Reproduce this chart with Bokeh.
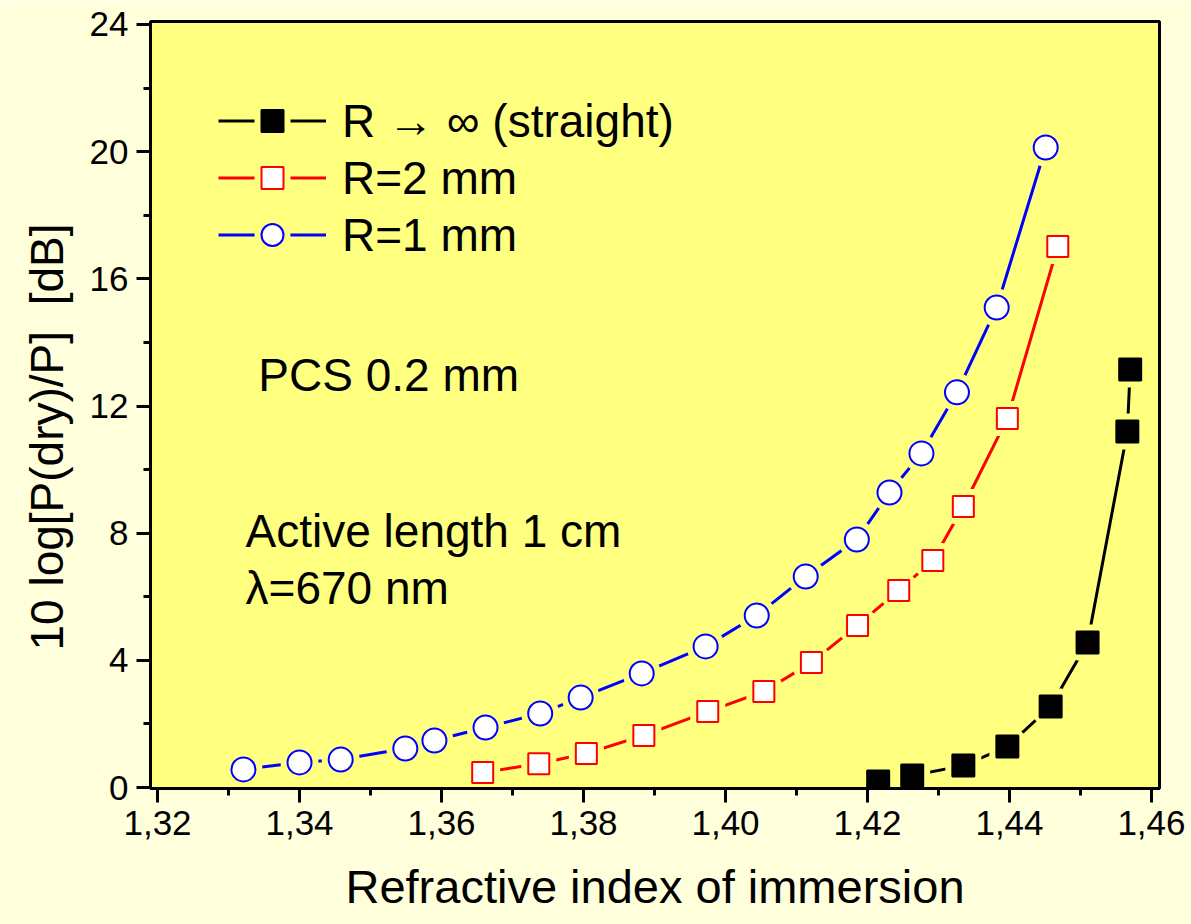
from bokeh.plotting import figure
from bokeh.models import (Range1d, FixedTicker, CustomJSTickFormatter, Legend,
                          LegendItem, Label, Title)
from bokeh.embed import file_html
from bokeh.resources import INLINE

# ---------------- data ----------------
x_ticks = [1.32, 1.34, 1.36, 1.38, 1.40, 1.42, 1.44, 1.46]
x_minor = [1.33, 1.35, 1.37, 1.39, 1.41, 1.43, 1.45]
y_ticks = [0, 4, 8, 12, 16, 20, 24]
y_minor = [2, 6, 10, 14, 18, 22]

straight_n = [1.4215, 1.4263, 1.4335, 1.4397, 1.4458, 1.4510, 1.4566, 1.4570]
straight_db = [0.19, 0.38, 0.69, 1.29, 2.55, 4.56, 11.20, 13.15]

r2_n = [1.3658, 1.3737, 1.3804, 1.3885, 1.3975, 1.4054, 1.4121, 1.4186,
        1.4244, 1.4292, 1.4335, 1.4397, 1.4468]
r2_db = [0.47, 0.75, 1.07, 1.64, 2.39, 3.02, 3.93, 5.10, 6.20, 7.14, 8.84,
         11.61, 17.02]

r1_n = [1.3321, 1.3400, 1.3458, 1.3549, 1.3590, 1.3662, 1.3739, 1.3796,
        1.3882, 1.3972, 1.4044, 1.4113, 1.4185, 1.4231, 1.4276, 1.4326,
        1.4382, 1.4451]
r1_db = [0.57, 0.79, 0.88, 1.23, 1.48, 1.89, 2.33, 2.83, 3.59, 4.44, 5.41,
         6.64, 7.80, 9.28, 10.51, 12.43, 15.10, 20.13]

labels = ["R \u2192 \u221e (straight)", "R=2 mm", "R=1 mm"]
x_title = "Refractive index of immersion"
y_title = "10 log[P(dry)/P]\u00a0 [dB]"

# ---------------- styling ----------------
PLOT_BG = "#FFFF80"
PAGE_BG = "#FFFFDC"
FONT = "Liberation Sans"

p = figure(width=1191, height=924, output_backend="svg", toolbar_location=None,
           x_range=Range1d(1.31901, 1.46113), y_range=Range1d(-0.03, 24.094),
           min_border_left=150, min_border_top=21, min_border_right=32,
           min_border_bottom=136,
           background_fill_color=PLOT_BG, border_fill_color=PAGE_BG)
p.xgrid.visible = False
p.ygrid.visible = False
p.outline_line_color = "black"
p.outline_line_width = 3

p.xaxis.ticker = FixedTicker(ticks=x_ticks, minor_ticks=x_minor)
p.xaxis.formatter = CustomJSTickFormatter(code="return tick.toFixed(2).replace('.', ',');")
p.yaxis.ticker = FixedTicker(ticks=y_ticks, minor_ticks=y_minor)

p.xaxis.axis_label = x_title

for ax in (p.xaxis, p.yaxis):
    ax.axis_line_width = 3
    ax.axis_line_color = "black"
    ax.major_tick_line_width = 3
    ax.minor_tick_line_width = 3
    ax.major_tick_line_color = "black"
    ax.minor_tick_line_color = "black"
    ax.major_tick_out = 14
    ax.major_tick_in = 0
    ax.minor_tick_out = 7
    ax.minor_tick_in = 0
    ax.major_label_text_font = FONT
    ax.major_label_text_font_size = "35px"
    ax.major_label_text_color = "black"
    ax.major_label_standoff = 8
    ax.axis_label_text_font = FONT
    ax.axis_label_text_font_size = "47px"
    ax.axis_label_text_font_style = "normal"
    ax.axis_label_text_color = "black"
p.xaxis.axis_label_standoff = 22

# y-axis title as a side title (starts where the original's does)
ytitle = Title(text=y_title, align="left", offset=138, standoff=28,
               text_font=FONT, text_font_size="46px", text_font_style="normal",
               text_color="black")
p.add_layout(ytitle, "left")

series = [
    (straight_n, straight_db, "black", "square", 22, "black", "black"),
    (r2_n, r2_db, "red", "square", 21, "red", "white"),
    (r1_n, r1_db, "blue", "circle", 24, "blue", "white"),
]

items = []
for (xs, ys, col, mk, sz, lc, fc), lab in zip(series, labels):
    ln = p.line(xs, ys, line_color=col, line_width=3)
    halo = p.scatter(xs, ys, marker=mk, size=sz, fill_color=PLOT_BG,
                     line_color=PLOT_BG, line_width=14)
    mr = p.scatter(xs, ys, marker=mk, size=sz, fill_color=fc, line_color=lc,
                   line_width=2)
    items.append(LegendItem(label=lab, renderers=[ln, halo, mr]))

legend = Legend(items=items, location=(68, 526), background_fill_alpha=0,
                border_line_alpha=0, glyph_width=108, glyph_height=55,
                label_height=55, label_standoff=16, spacing=2, padding=0,
                margin=0, label_text_font=FONT, label_text_font_size="46px",
                label_text_color="black")
p.add_layout(legend)

for tx, xx, yy in [("PCS 0.2 mm", 1.3342, 12.96),
                   ("Active length 1 cm", 1.3324, 8.08),
                   ("\u03bb=670 nm", 1.3324, 6.29)]:
    p.add_layout(Label(x=xx, y=yy, text=tx, text_font=FONT,
                       text_font_size="46px", text_color="black",
                       text_baseline="alphabetic", text_align="left"))

open("out.html", "w").write(file_html(p, INLINE))
